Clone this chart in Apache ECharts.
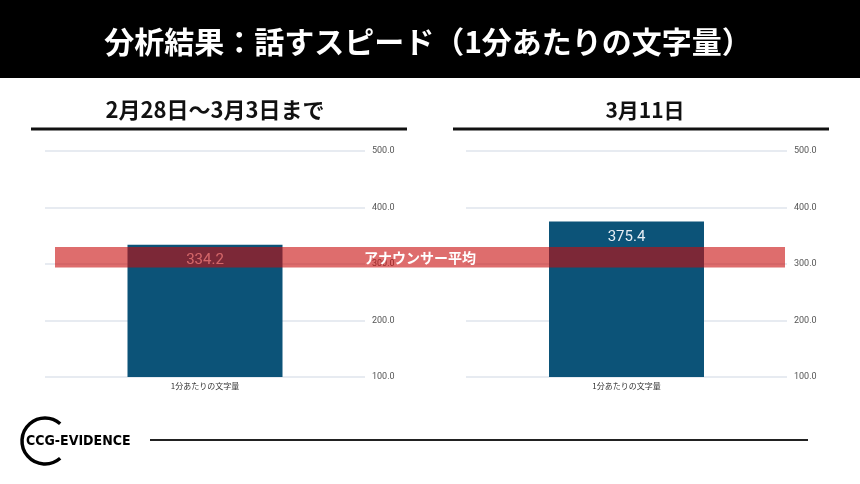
<!DOCTYPE html>
<html><head><meta charset="utf-8">
<script src="https://cdn.jsdelivr.net/npm/echarts@6/dist/echarts.min.js"></script>
<style>html,body{margin:0;padding:0;background:#fff}#c{width:860px;height:484px}</style>
</head><body><div id="c"></div>
<script>
const pageTitle = '分析結果：話すスピード（1分あたりの文字量）';
const panelTitles = ['2月28日～3月3日まで', '3月11日'];
const categories = ['1分あたりの文字量'];
const valuesBefore = [334.2];
const valuesAfter = [375.4];
const yTicks = [100, 200, 300, 400, 500];
const bandLabel = 'アナウンサー平均';
const bandRange = [294, 330];
const logoText = 'CCG-EVIDENCE';

const JP = '"Noto Sans CJK JP", "Noto Sans", sans-serif';
const chart = echarts.init(document.getElementById('c'), null, {renderer: 'canvas'});

function yAxis(idx) {
  return {
    type: 'value', gridIndex: idx, position: 'right',
    min: yTicks[0], max: yTicks[yTicks.length - 1], interval: 100,
    axisLine: {show: false}, axisTick: {show: false},
    axisLabel: {formatter: v => v.toFixed(1), fontSize: 9, color: '#555', margin: 7, fontFamily: 'Roboto, sans-serif'},
    splitLine: {lineStyle: {color: '#dfe5ec', width: 1.5}}
  };
}
function xAxis(idx) {
  return {
    type: 'category', gridIndex: idx, data: categories,
    axisLine: {show: false}, axisTick: {show: false},
    axisLabel: {fontSize: 8, color: '#333', margin: 5, fontFamily: JP}
  };
}
function barSeries(idx, data) {
  return {
    type: 'bar', xAxisIndex: idx, yAxisIndex: idx, data: data, barWidth: 155,
    itemStyle: {color: '#0c5378'},
    label: {show: true, position: 'insideTop', distance: 8, fontSize: 15, color: '#e6eef5',
      fontFamily: 'Roboto, sans-serif', formatter: p => p.value.toFixed(1)},
    z: 2
  };
}

const staticGraphics = [
  {type: 'rect', shape: {x: 0, y: 0, width: 860, height: 78}, style: {fill: '#000'}, z: 50},
  {type: 'text', x: 428, y: 42, style: {text: pageTitle, fill: '#fff', font: 'bold 30px ' + JP, textAlign: 'center', textVerticalAlign: 'middle'}, z: 51},
  {type: 'text', x: 215, y: 110, style: {text: panelTitles[0], fill: '#111', font: 'bold 22px ' + JP, textAlign: 'center', textVerticalAlign: 'middle'}, z: 51},
  {type: 'text', x: 645, y: 110, style: {text: panelTitles[1], fill: '#111', font: 'bold 21px ' + JP, textAlign: 'center', textVerticalAlign: 'middle'}, z: 51},
  {type: 'line', shape: {x1: 31, y1: 129, x2: 407, y2: 129}, style: {stroke: '#111', lineWidth: 3}, z: 51},
  {type: 'line', shape: {x1: 453, y1: 129, x2: 829, y2: 129}, style: {stroke: '#111', lineWidth: 3}, z: 51},
  {type: 'arc', shape: {cx: 45, cy: 441, r: 23, startAngle: 0.85, endAngle: Math.PI * 2 - 0.85, clockwise: true}, style: {stroke: '#000', lineWidth: 3.5, fill: null}, z: 51},
  {type: 'text', x: 26, y: 441, style: {text: logoText, fill: '#000', font: 'bold 14px "DejaVu Sans Condensed", sans-serif', textAlign: 'left', textVerticalAlign: 'middle'}, z: 51},
  {type: 'line', shape: {x1: 150, y1: 440, x2: 808, y2: 440}, style: {stroke: '#222', lineWidth: 2}, z: 51}
];

chart.setOption({
  animation: false,
  backgroundColor: '#fff',
  grid: [
    {left: 45, right: 495, top: 151, bottom: 107},
    {left: 466, right: 73, top: 151, bottom: 107}
  ],
  xAxis: [xAxis(0), xAxis(1)],
  yAxis: [yAxis(0), yAxis(1)],
  series: [barSeries(0, valuesBefore), barSeries(1, valuesAfter)],
  graphic: staticGraphics
});

const yTop = chart.convertToPixel({yAxisIndex: 0}, bandRange[1]);
const yBot = chart.convertToPixel({yAxisIndex: 0}, bandRange[0]);
chart.setOption({
  graphic: staticGraphics.concat([
    {type: 'rect', shape: {x: 55, y: yTop, width: 730, height: yBot - yTop}, style: {fill: 'rgba(200,12,12,0.6)'}, z: 100},
    {type: 'text', x: 420, y: (yTop + yBot) / 2, style: {text: bandLabel, fill: '#fff', font: 'bold 14px ' + JP, textAlign: 'center', textVerticalAlign: 'middle'}, z: 101}
  ])
});
</script></body></html>
